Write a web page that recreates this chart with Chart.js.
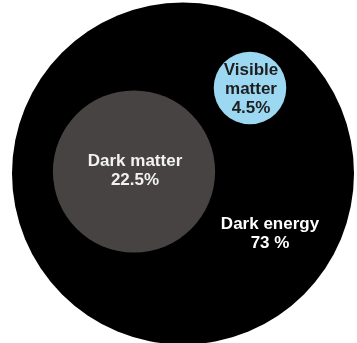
<!DOCTYPE html>
<html>
<head>
<meta charset="utf-8">
<script src="https://cdn.jsdelivr.net/npm/chart.js@4/dist/chart.umd.min.js"></script>
<style>
  html, body { margin: 0; padding: 0; background: #ffffff; }
  #wrap { width: 357px; height: 343px; }
</style>
</head>
<body>
<div id="wrap"><canvas id="c" width="357" height="343"></canvas></div>
<script>
// ---- data ----
const categories = ["Dark energy", "Dark matter", "Visible matter"];
const shares = [73, 22.5, 4.5];            // percent of the universe
const labelLines = [["Dark energy", "73 %"], ["Dark matter", "22.5%"], ["Visible", "matter", "4.5%"]];
// centre of each circle (hidden-axis units)
const centreX = [183, 134, 250];
const centreY = [173.5, 171.5, 88];
// where each label sits
const labelX = [270, 135, 251];
const labelY = [233.5, 171, 89];
const fillColors = ["#000000", "#474342", "#9dd8f2"];
const textColors = ["#ffffff", "#f2f2f2", "#1e1e1e"];
const totalRadius = 171;   // radius of the whole-universe circle

const total = shares.reduce((a, b) => a + b, 0);
// outer circle is the whole; inner circles are area-proportional to their share
const areaShare = shares.map((s, i) => i === 0 ? total : s);

const labelPlugin = {
  id: 'labels',
  afterDatasetsDraw(chart) {
    const ctx = chart.ctx;
    const xs = chart.scales.x, ys = chart.scales.y;
    ctx.save();
    ctx.textAlign = 'center';
    ctx.textBaseline = 'middle';
    ctx.font = 'bold 17px "Liberation Sans", Arial, sans-serif';
    const lh = 19;
    labelLines.forEach((lines, i) => {
      const cx = xs.getPixelForValue(labelX[i]);
      const cy = ys.getPixelForValue(labelY[i]);
      ctx.fillStyle = textColors[i];
      const start = cy - (lines.length - 1) * lh / 2;
      lines.forEach((t, j) => ctx.fillText(t, cx, start + j * lh));
    });
    ctx.restore();
  }
};

new Chart(document.getElementById('c'), {
  type: 'bubble',
  data: {
    labels: categories,
    datasets: [{
      data: categories.map((c, i) => ({
        x: centreX[i], y: centreY[i],
        r: totalRadius * Math.sqrt(areaShare[i] / total)
      })),
      backgroundColor: fillColors,
      borderWidth: 0,
      hoverBorderWidth: 0,
      clip: false
    }]
  },
  options: {
    responsive: false,
    animation: false,
    events: [],
    layout: { padding: 0, autoPadding: false },
    plugins: { legend: { display: false }, tooltip: { enabled: false } },
    scales: {
      x: { type: 'linear', min: 0, max: 357, display: false },
      y: { type: 'linear', min: 0, max: 343, reverse: true, display: false }
    }
  },
  plugins: [labelPlugin]
});
</script>
</body>
</html>
